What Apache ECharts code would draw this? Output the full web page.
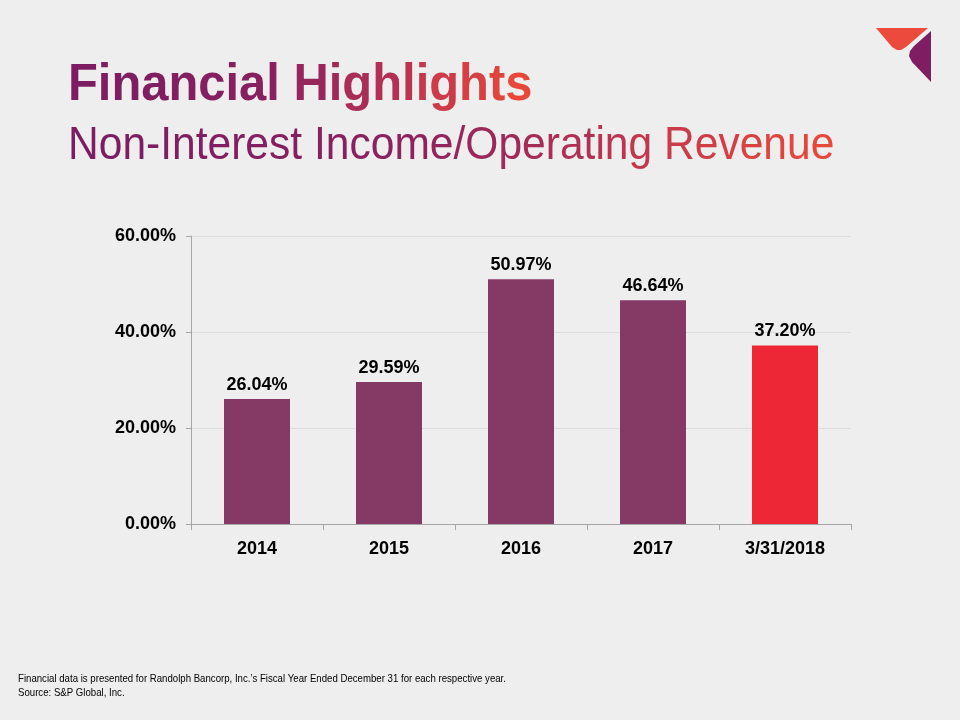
<!DOCTYPE html>
<html><head><meta charset="utf-8">
<script src="https://cdn.jsdelivr.net/npm/echarts@6/dist/echarts.min.js"></script>
<style>html,body{margin:0;padding:0;background:#eeeeee}#c{width:960px;height:720px}</style>
</head><body><div id="c"></div>
<script>
const categories = ['2014', '2015', '2016', '2017', '3/31/2018'];
const values = [26.04, 29.59, 50.97, 46.64, 37.20];
const barColors = ['#853a65', '#853a65', '#853a65', '#853a65', '#ee2737'];
const yTicks = [0, 20, 40, 60];

const stops = [[0, [124, 28, 98]], [0.45, [138, 33, 96]], [0.75, [190, 52, 80]], [1, [232, 72, 58]]];
function colorAt(t) {
  for (let k = 1; k < stops.length; k++) {
    if (t <= stops[k][0]) {
      const a = stops[k - 1], b = stops[k];
      const u = (t - a[0]) / (b[0] - a[0]);
      const c = a[1].map((x, j) => Math.round(x + (b[1][j] - x) * u));
      return 'rgb(' + c.join(',') + ')';
    }
  }
  return 'rgb(' + stops[stops.length - 1][1].join(',') + ')';
}
function gradText(str, font) {
  const rich = {};
  let text = '';
  const n = str.length;
  for (let i = 0; i < n; i++) {
    const key = 'c' + i;
    rich[key] = {fill: colorAt(i / (n - 1)), font: font};
    text += '{' + key + '|' + str[i] + '}';
  }
  return {text, rich};
}
const t1 = gradText('Financial Highlights', 'bold 52px "Liberation Sans"');
const t2 = gradText('Non-Interest Income/Operating Revenue', '46px "Liberation Sans"');

const chart = echarts.init(document.getElementById('c'), null, {renderer: 'canvas'});
chart.setOption({
  backgroundColor: '#eeeeee',
  animation: false,
  grid: {left: 191, right: 109, top: 236, bottom: 196},
  xAxis: {
    type: 'category', data: categories,
    axisLine: {lineStyle: {color: '#a6a6a6'}},
    axisTick: {show: true, length: 6, lineStyle: {color: '#a6a6a6'}},
    axisLabel: {color: '#000', fontFamily: 'Liberation Sans', fontWeight: 'bold', fontSize: 18, margin: 16}
  },
  yAxis: {
    type: 'value', min: yTicks[0], max: yTicks[yTicks.length - 1], interval: 20,
    axisLine: {show: true, lineStyle: {color: '#a6a6a6'}},
    axisTick: {show: true, length: 5, lineStyle: {color: '#a6a6a6'}},
    splitLine: {lineStyle: {color: '#dcdcdc'}},
    axisLabel: {color: '#000', fontFamily: 'Liberation Sans', fontWeight: 'bold', fontSize: 18, margin: 15,
      formatter: v => v.toFixed(2) + '%'}
  },
  series: [{
    type: 'bar', barWidth: '50%',
    data: values.map((v, i) => ({value: v, itemStyle: {color: barColors[i]}})),
    label: {show: true, position: 'top', distance: 5, color: '#000', fontFamily: 'Liberation Sans',
      fontWeight: 'bold', fontSize: 18, formatter: p => p.value.toFixed(2) + '%'}
  }],
  graphic: [
    {type: 'text', x: 68, y: 60, scaleX: 0.94, style: {text: t1.text, rich: t1.rich, font: 'bold 52px "Liberation Sans"'}},
    {type: 'text', x: 68, y: 123, scaleX: 0.925, style: {text: t2.text, rich: t2.rich, font: '46px "Liberation Sans"'}},
    {type: 'text', x: 18, y: 672, scaleX: 0.876, style: {text: 'Financial data is presented for Randolph Bancorp, Inc.\u2019s Fiscal Year Ended December 31 for each respective year.\nSource: S&P Global, Inc.', font: '11px "Liberation Sans"', fill: '#000', lineHeight: 14}},
    {type: 'polygon', shape: {points: [[876, 28], [928, 28], [906, 47], [901, 50], [897, 50], [892, 47]]}, style: {fill: '#ec4a3c'}},
    {type: 'polygon', shape: {points: [[931, 31], [931, 82], [912, 62], [909, 56], [910, 51], [914, 46]]}, style: {fill: '#7f1d62'}}
  ]
});
</script></body></html>
